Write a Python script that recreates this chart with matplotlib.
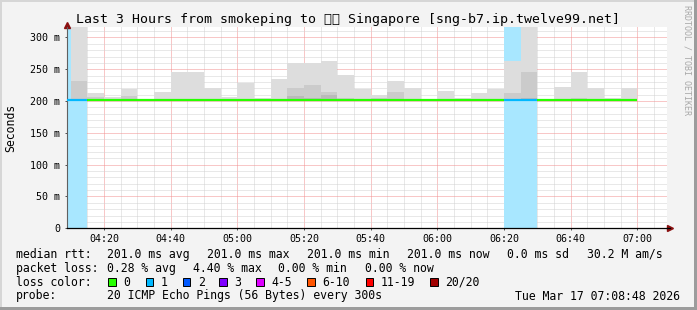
import matplotlib
matplotlib.use("Agg")
import matplotlib.pyplot as plt
from matplotlib.patches import Rectangle
from matplotlib.colors import to_rgb

# 5 minute intervals (start time), values in ms
interval_start = ["04:05", "04:10", "04:15", "04:20", "04:25", "04:30", "04:35",
                  "04:40", "04:45", "04:50", "04:55", "05:00", "05:05", "05:10",
                  "05:15", "05:20", "05:25", "05:30", "05:35", "05:40", "05:45",
                  "05:50", "05:55", "06:00", "06:05", "06:10", "06:15", "06:20",
                  "06:25", "06:30", "06:35", "06:40", "06:45", "06:50", "06:55"]
rtt_median = [201.0, 201.0, 201.0, 201.0, 201.0, 201.0, 201.0,
              201.0, 201.0, 201.0, 201.0, 201.0, 201.0, 201.0,
              201.0, 201.0, 201.0, 201.0, 201.0, 201.0, 201.0,
              201.0, 201.0, 201.0, 201.0, 201.0, 201.0, 201.0,
              201.0, 201.0, 201.0, 201.0, 201.0, 201.0, 201.0]
smoke_max = [201, 330, 213, 207, 219, 202, 214,
             245.5, 245.5, 220, 206, 229, 205, 235,
             260, 260, 263, 241, 219, 210, 231,
             220, 202, 216, 205, 212.5, 219.5, 263,
             330, 202, 222, 245.5, 220, 205, 220]
smoke_mid = [201, 231, 206, 204, 208, 201, 204,
             204, 204, 204, 203, 204, 203, 204,
             220, 225, 215, 205, 204, 205, 214,
             204, 201, 204, 203, 204, 204, 212,
             246, 201, 204, 205, 204, 203, 204]
smoke_dark = [201, 201, 202, 202, 203, 201, 202,
              202, 202, 202, 202, 202, 202, 202,
              208, 205, 210, 202, 202, 203, 204,
              202, 201, 202, 202, 202, 202, 203,
              205, 201, 202, 202, 202, 202, 202]
loss_count = [1, 1, 0, 0, 0, 0, 0,
              0, 0, 0, 0, 0, 0, 0,
              0, 0, 0, 0, 0, 0, 0,
              0, 0, 0, 0, 0, 0, 1,
              1, 0, 0, 0, 0, 0, 0]

view_start = "04:08:48"
view_end = "07:08:48"
y_max = 316

y_ticks = [0, 50, 100, 150, 200, 250, 300]
y_labels = ["0", "50 m", "100 m", "150 m", "200 m", "250 m", "300 m"]
x_labels = ["04:20", "04:40", "05:00", "05:20", "05:40", "06:00", "06:20", "06:40", "07:00"]

loss_names = ["0", "1", "2", "3", "4-5", "6-10", "11-19", "20/20"]
loss_colors = ["#26ff00", "#00b8ff", "#0059ff", "#7e00ff", "#dd00ff", "#ff5500", "#ff0000", "#a10000"]
loss_upper = [0, 1, 2, 3, 5, 10, 19, 20]

title = "Last 3 Hours from smokeping to \U0001F1F8\U0001F1EC Singapore [sng-b7.ip.twelve99.net]"
rtt_stats = ["201.0 ms avg", "201.0 ms max", "201.0 ms min", "201.0 ms now", "0.0 ms sd", "30.2 M am/s"]
loss_stats = ["0.28 % avg", "4.40 % max", "0.00 % min", "0.00 % now"]
probe_text = "20 ICMP Echo Pings (56 Bytes) every 300s"
timestamp = "Tue Mar 17 07:08:48 2026"

W, H = 697, 310
MONO = "DejaVu Sans Mono"
TITLE_FONTS = ["DejaVu Sans Mono", "DejaVu Sans", "Noto Sans", "Noto Sans CJK SC"]


def minutes(t):
    parts = [int(p) for p in t.split(":")]
    m = parts[0] * 60 + parts[1]
    if len(parts) > 2:
        m += parts[2] / 60
    return m


def loss_color(n):
    for upper, color in zip(loss_upper, loss_colors):
        if n <= upper:
            return color
    return loss_colors[-1]


def lighten(color, amount=0.66):
    r, g, b = to_rgb(color)
    return (r + (1 - r) * amount, g + (1 - g) * amount, b + (1 - b) * amount)


def px(x, y):
    # pixel position (from top left) -> figure fraction
    return x / W, 1 - y / H


def main():
    fig = plt.figure(figsize=(W / 100, H / 100), dpi=100, facecolor="#f3f3f3")
    ax = fig.add_axes([66.7 / W, (H - 228.3) / H, 600 / W, 201 / H])
    ax.set_facecolor("white")

    starts = [minutes(t) for t in interval_start]

    # loss background
    for s, n in zip(starts, loss_count):
        if n > 0:
            ax.axvspan(s, s + 5, color=lighten(loss_color(n)), lw=0, zorder=1)

    # smoke
    for levels, color in [(smoke_max, "#dddddd"), (smoke_mid, "#cbcbcb"), (smoke_dark, "#bababa")]:
        heights = [v - m for v, m in zip(levels, rtt_median)]
        ax.bar(starts, heights, bottom=rtt_median, width=5, align="edge",
               color=color, lw=0, zorder=2)

    # median rtt coloured by loss
    ax.hlines(rtt_median, starts, [s + 5 for s in starts],
              colors=[loss_color(n) for n in loss_count], lw=1.6, zorder=3)

    # axes & grid
    ax.set_xlim(minutes(view_start), minutes(view_end))
    ax.set_ylim(0, y_max)
    ax.set_xticks([minutes(t) for t in x_labels])
    ax.set_xticklabels(x_labels, family=MONO, fontsize=7.2)
    ax.set_xticks(range(minutes("04:10"), int(minutes(view_end)) + 1, 5), minor=True)
    ax.set_yticks(y_ticks)
    ax.set_yticklabels(y_labels, family=MONO, fontsize=7.2)
    ax.set_yticks(range(0, y_max, 10), minor=True)
    ax.tick_params(which="major", length=1.5, width=0.7, color="#505050", pad=2.4)
    ax.tick_params(axis="y", which="major", pad=3.4)
    ax.tick_params(which="minor", length=0)
    ax.grid(which="minor", color="#d2d2d2", lw=0.72, linestyle=(0, (1, 1)), zorder=0)
    ax.grid(which="major", color="#f29090", lw=0.72, linestyle=(0, (1, 1)), zorder=0)
    ax.set_axisbelow(True)
    for side in ["top", "right"]:
        ax.spines[side].set_visible(False)
    ax.spines["bottom"].set_color("black")
    ax.spines["bottom"].set_linewidth(0.9)
    ax.spines["bottom"].set_zorder(5)
    ax.spines["left"].set_color("#606060")
    ax.spines["left"].set_linewidth(0.8)

    # axis arrows
    ax.plot([1.006], [0], marker=">", color="#8b1010", ms=4, transform=ax.transAxes, clip_on=False)
    ax.plot([0], [1.012], marker="^", color="#8b1010", ms=4, transform=ax.transAxes, clip_on=False)
    ax.plot([1, 1.006], [0, 0], color="black", lw=0.9, transform=ax.transAxes, clip_on=False)

    # title & labels
    fig.text(*px(348.5, 20), title, family=TITLE_FONTS, fontsize=9.5, ha="center", va="center")
    fig.text(*px(10.5, 127.5), "Seconds", family=MONO, fontsize=8.3, rotation=90,
             ha="center", va="center")
    fig.text(*px(687.5, 60), "RRDTOOL / TOBI OETIKER", family=MONO, fontsize=6,
             rotation=270, ha="center", va="center", color="#a8a8a8")

    # legend rows
    rows = [254.3, 268.3, 282.3, 296]
    fig.text(*px(16, rows[0]), "median rtt:", family=MONO, fontsize=8.3, va="center")
    for x, s in zip([107.3, 207.3, 306.7, 407.3, 507.3, 586.7], rtt_stats):
        fig.text(*px(x, rows[0]), s, family=MONO, fontsize=8.3, va="center")
    fig.text(*px(16, rows[1]), "packet loss:", family=MONO, fontsize=8.3, va="center")
    for x, s in zip([107.3, 193.3, 278.3, 365], loss_stats):
        fig.text(*px(x, rows[1]), s, family=MONO, fontsize=8.3, va="center")
    fig.text(*px(16, rows[2]), "loss color:", family=MONO, fontsize=8.3, va="center")
    for x, name, color in zip([108.3, 145.7, 182.7, 219.3, 256, 307.3, 365.5, 430],
                              loss_names, loss_colors):
        fig.patches.append(Rectangle(px(x, rows[2] + 4), 7.5 / W, 8.5 / H, facecolor=color,
                                     edgecolor="black", lw=0.7, transform=fig.transFigure))
        fig.text(*px(x + 15, rows[2]), name, family=MONO, fontsize=8.3, va="center")
    fig.text(*px(16, rows[3]), "probe:", family=MONO, fontsize=8.3, va="center")
    fig.text(*px(107.3, rows[3]), probe_text, family=MONO, fontsize=8.3, va="center")
    fig.text(*px(680, rows[3]), timestamp, family=MONO, fontsize=8.3, va="center", ha="right")

    # frame
    for x, y, w, h, c in [(0, 0, W, 2, "#d6d6d6"), (0, 0, 2, H, "#d6d6d6"),
                          (W - 3, 0, 3, H, "#9c9c9c"), (0, H - 3, W, 3, "#9c9c9c")]:
        fig.patches.append(Rectangle(px(x, y + h), w / W, h / H, facecolor=c, lw=0,
                                     transform=fig.transFigure))

    fig.savefig("out.png", dpi=100, facecolor=fig.get_facecolor())


if __name__ == "__main__":
    main()
